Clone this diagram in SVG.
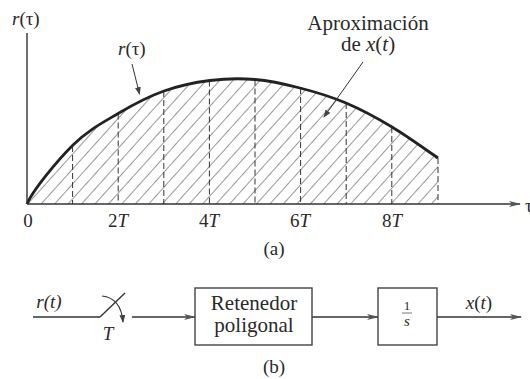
<svg xmlns="http://www.w3.org/2000/svg" width="530" height="379" viewBox="0 0 530 379">
<defs>
<marker id="ah" viewBox="0 0 12 6" refX="11" refY="3" markerWidth="12" markerHeight="6" markerUnits="userSpaceOnUse" orient="auto">
<path d="M0,0 L12,3 L0,6 L3,3 Z" fill="#555"/>
</marker>
<marker id="sa" viewBox="0 0 8 6" refX="7" refY="3" markerWidth="8" markerHeight="6" markerUnits="userSpaceOnUse" orient="auto">
<path d="M0,0 L8,3 L0,6 Z" fill="#444"/>
</marker>
<pattern id="hatch" patternUnits="userSpaceOnUse" width="10" height="40" patternTransform="translate(27,204) rotate(42)">
<line x1="0" y1="0" x2="0" y2="40" stroke="#333" stroke-width="1"/>
</pattern>
<path id="curve" d="M27,204 C33,190 57.7,160.2 73,145 C88.3,129.8 103.8,122 119,113 C134.2,104 148.8,96.4 164,91 C179.2,85.6 194.8,82.4 210,80.5 C225.2,78.6 240,78.25 255,79.5 C270,80.75 284.8,84.1 300,88 C315.2,91.9 330.7,96.5 346,103 C361.3,109.5 376.7,117.8 392,127 C407.3,136.2 430.3,152.8 438,158"/>
<clipPath id="area">
<path d="M27,204 C33,190 57.7,160.2 73,145 C88.3,129.8 103.8,122 119,113 C134.2,104 148.8,96.4 164,91 C179.2,85.6 194.8,82.4 210,80.5 C225.2,78.6 240,78.25 255,79.5 C270,80.75 284.8,84.1 300,88 C315.2,91.9 330.7,96.5 346,103 C361.3,109.5 376.7,117.8 392,127 C407.3,136.2 430.3,152.8 438,158 L438,204 Z"/>
</clipPath>
</defs>
<rect width="530" height="379" fill="#fff"/>

<g id="plot">
<rect x="27" y="70" width="420" height="140" fill="url(#hatch)" clip-path="url(#area)"/>
<g id="samples" stroke="#333" stroke-width="1" stroke-dasharray="6 3">
<line x1="72.6" y1="146" x2="72.6" y2="204"/>
<line x1="118.2" y1="113.5" x2="118.2" y2="204"/>
<line x1="163.8" y1="91" x2="163.8" y2="204"/>
<line x1="209.4" y1="80.5" x2="209.4" y2="204"/>
<line x1="255" y1="79.5" x2="255" y2="204"/>
<line x1="300.6" y1="88" x2="300.6" y2="204"/>
<line x1="346.2" y1="103" x2="346.2" y2="204"/>
<line x1="391.8" y1="127" x2="391.8" y2="204"/>
<line x1="438" y1="158" x2="438" y2="204"/>
</g>
<use href="#curve" stroke="#222" stroke-width="2.8" fill="none"/>
<g stroke="#333" stroke-width="1.4" fill="none">
<line x1="27" y1="33" x2="27" y2="204"/>
<line x1="27" y1="204" x2="520" y2="204" marker-end="url(#ah)"/>
<line x1="132" y1="64" x2="139.5" y2="94" stroke-width="1" marker-end="url(#sa)"/>
<line x1="363" y1="62" x2="324" y2="117" stroke-width="1" marker-end="url(#sa)"/>
</g>
<g font-family="Liberation Serif" fill="#2a2a2a" font-size="19">
<text x="525" y="212">τ</text>
<text x="12" y="25"><tspan font-style="italic">r</tspan>(τ)</text>
<text x="118" y="55"><tspan font-style="italic">r</tspan>(τ)</text>
<text x="368" y="30" font-size="21" text-anchor="middle">Aproximación</text>
<text x="368" y="51" font-size="21" text-anchor="middle">de <tspan font-style="italic">x</tspan>(<tspan font-style="italic">t</tspan>)</text>
<text x="28" y="227" text-anchor="middle">0</text>
<text x="118" y="227" text-anchor="middle">2<tspan font-style="italic">T</tspan></text>
<text x="209" y="227" text-anchor="middle">4<tspan font-style="italic">T</tspan></text>
<text x="300" y="227" text-anchor="middle">6<tspan font-style="italic">T</tspan></text>
<text x="392" y="227" text-anchor="middle">8<tspan font-style="italic">T</tspan></text>
<text x="274" y="255" font-size="19" text-anchor="middle">(a)</text>
</g>
</g>

<g id="connectors" stroke="#333" stroke-width="1.4" fill="none">
<line x1="33" y1="317" x2="100" y2="317"/>
<line x1="100" y1="317" x2="125" y2="293"/>
<path d="M102,296 Q121,298 123,322" stroke-width="1.2" marker-end="url(#sa)"/>
<line x1="132" y1="317" x2="195" y2="317" marker-end="url(#ah)"/>
<line x1="312" y1="317" x2="378" y2="317" marker-end="url(#ah)"/>
<line x1="437" y1="317" x2="521" y2="317" marker-end="url(#ah)"/>
</g>
<g id="labels-b" font-family="Liberation Serif" fill="#2a2a2a" font-size="19">
<text x="49" y="308" font-style="italic" text-anchor="middle">r(t)</text>
<text x="108" y="340" font-style="italic" text-anchor="middle">T</text>
<text x="479" y="309" text-anchor="middle"><tspan font-style="italic">x</tspan>(<tspan font-style="italic">t</tspan>)</text>
<text x="274" y="373" font-size="19" text-anchor="middle">(b)</text>
</g>
<g id="retenedor">
<rect x="195" y="288" width="117" height="57" fill="none" stroke="#444" stroke-width="1.4"/>
<text x="254" y="310" font-family="Liberation Serif" font-size="21" fill="#2a2a2a" text-anchor="middle">Retenedor</text>
<text x="254" y="332" font-family="Liberation Serif" font-size="21" fill="#2a2a2a" text-anchor="middle">poligonal</text>
</g>
<g id="integrador">
<rect x="378" y="288" width="59" height="57" fill="none" stroke="#444" stroke-width="1.4"/>
<text x="407" y="310" font-family="Liberation Serif" font-size="13" fill="#2a2a2a" text-anchor="middle">1</text>
<line x1="402" y1="313" x2="412" y2="313" stroke="#555" stroke-width="0.8"/>
<text x="407" y="326" font-family="Liberation Serif" font-size="15" fill="#2a2a2a" font-style="italic" text-anchor="middle">s</text>
</g>
</svg>
